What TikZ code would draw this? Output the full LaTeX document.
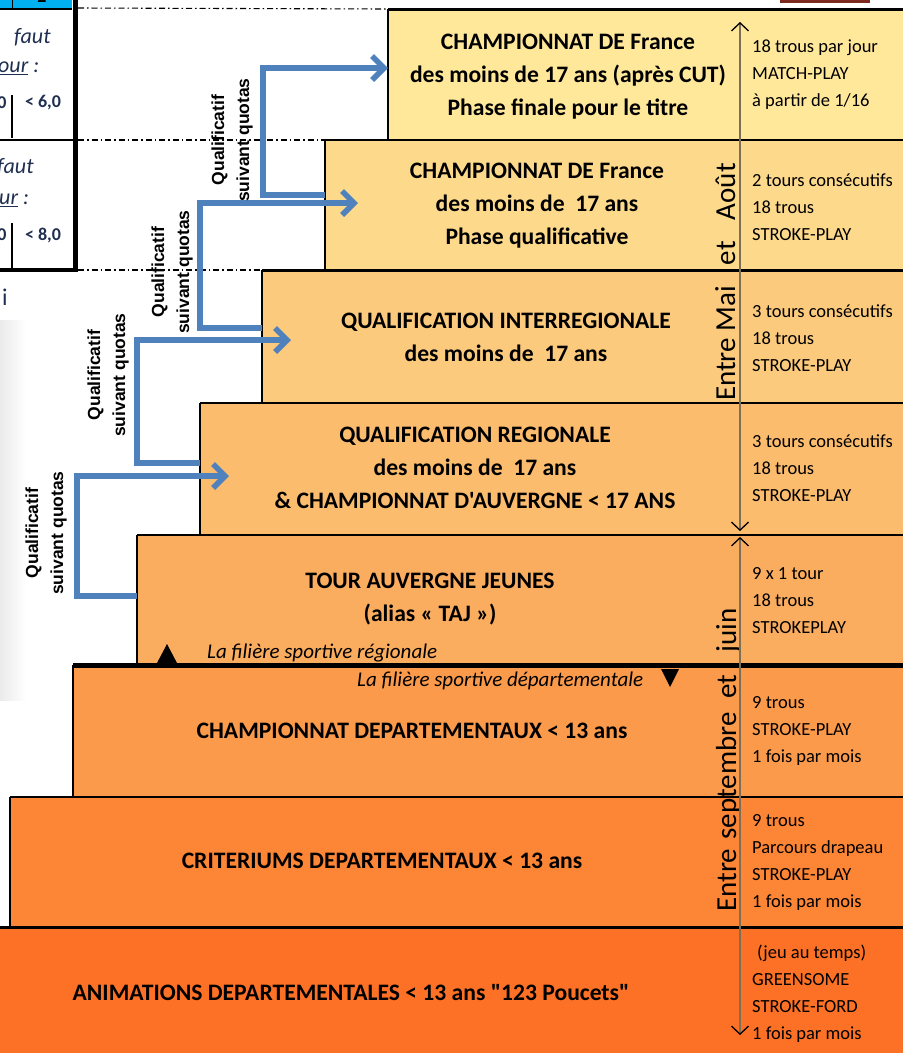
\documentclass[tikz,border=0pt]{standalone}
\usepackage{fontspec}
\setmainfont{Carlito}[Ligatures=TeXOff]
\newfontfamily\arialf{Liberation Sans}
\usetikzlibrary{arrows.meta,calc}
\definecolor{cA}{HTML}{FFE89A}
\definecolor{cB}{HTML}{FDD98B}
\definecolor{cC}{HTML}{FCCA7C}
\definecolor{cD}{HTML}{FBBC6D}
\definecolor{cE}{HTML}{FBAD5F}
\definecolor{cF}{HTML}{FC9A4B}
\definecolor{cG}{HTML}{FC8536}
\definecolor{cH}{HTML}{FD7126}
\definecolor{qblue}{HTML}{4F81BD}
\definecolor{tblue}{HTML}{00B0F0}
\definecolor{navy}{HTML}{1F2F50}
\definecolor{dred}{HTML}{7F2A1E}
\definecolor{axis}{HTML}{7D6E58}
\tikzset{
 stepbox/.style={inner sep=0pt, outer sep=0pt, anchor=north west, draw=none},
 maintxt/.style={align=center, font=\bfseries\fontsize{23.6}{33}\selectfont, inner sep=0pt},
 note/.style={align=left, anchor=west, font=\fontsize{18.5}{27}\selectfont, inner sep=0pt},
 qlabel/.style={rotate=90, align=center, font=\arialf\bfseries\fontsize{17.5}{25}\selectfont, inner sep=0pt},
 qarrow/.style={draw=qblue, line width=5.5pt, -{Straight Barb[length=12pt,width=24pt]}},
 timearrow/.style={draw=axis, line width=1.6pt, {Straight Barb[color=black,length=8pt,width=17pt,line width=1.3pt]}-{Straight Barb[color=black,length=8pt,width=17pt,line width=1.3pt]}},
 dashdot/.style={line width=1.1pt, dash pattern=on 6pt off 3pt on 1.5pt off 3pt},
 period/.style={rotate=90, anchor=base, font=\fontsize{29}{30}\selectfont, inner sep=0pt},
 filiere/.style={anchor=west, font=\itshape\fontsize{21}{24}\selectfont, inner sep=0pt},
 tabtxt/.style={font=\bfseries\fontsize{18}{20}\selectfont, inner sep=0pt},
 tabital/.style={anchor=west, text=navy, font=\itshape\fontsize{22}{24}\selectfont, inner sep=0pt}
}
\begin{document}
\begin{tikzpicture}[x=1pt,y=-1pt]
\useasboundingbox (0,0) rectangle (903,1053);
% steps
\node[stepbox, fill=cA, minimum width=515pt, minimum height=131pt] (b1) at (388,9) {};
\node[stepbox, fill=cB, minimum width=578pt, minimum height=130pt] (b2) at (325,140) {};
\node[stepbox, fill=cC, minimum width=641pt, minimum height=133pt] (b3) at (262,270) {};
\node[stepbox, fill=cD, minimum width=703pt, minimum height=132pt] (b4) at (200,403) {};
\node[stepbox, fill=cE, minimum width=766pt, minimum height=130pt] (b5) at (137,535) {};
\node[stepbox, fill=cF, minimum width=830pt, minimum height=132pt] (b6) at (73,665) {};
\node[stepbox, fill=cG, minimum width=893pt, minimum height=130pt] (b7) at (10,797) {};
\node[stepbox, fill=cH, minimum width=903pt, minimum height=126pt] (b8) at (0,927) {};
% faint shadow at left
\fill[left color=black!8, right color=white] (0,320) rectangle (26,700);
% top right dark red piece
\fill[dred] (780,0) rectangle (870,3);
% partial table at top left
\fill[tblue] (0,0) rectangle (72,8);
\draw[line width=1pt] (12,0) -- (12,8);
\begin{scope}
\clip (0,0) rectangle (72,8);
\node[font=\bfseries\fontsize{18}{20}\selectfont, inner sep=0pt] (tt) at (42,-3) {2};
\end{scope}
\draw[line width=1.2pt] (0,9) -- (72,9);
\draw[line width=5pt] (75,0) -- (75,272);
\draw[line width=1.5pt] (0,140) -- (73,140);
\draw[line width=4pt] (0,270) -- (77,270);
\draw[line width=1.5pt] (12,95) -- (12,138);
\draw[line width=1.5pt] (12,223) -- (12,268);
\node[tabital] (f1) at (14,37) {faut};
\node[tabital] (o1) at (-2,68) {\underline{our} :};
\node[tabital] (f2) at (-3,167) {faut};
\node[tabital] (o2) at (-1,200) {\underline{ur} :};
\node[tabtxt, text=navy] (z1) at (2,103) {0};
\node[tabtxt, text=navy] (v1) at (43,103) {< 6,0};
\node[tabtxt, text=navy] (z2) at (2,235) {0};
\node[tabtxt, text=navy] (v2) at (43,235) {< 8,0};
\node[text=navy, font=\fontsize{24}{26}\selectfont, inner sep=0pt] (ii) at (5,297) {i};
% dash-dot guides
\coordinate (g0) at (78,8);
\coordinate (g1) at (78,140);
\coordinate (g2) at (78,270);
\draw[dashdot] (g0) -- (b1.north west);
\draw[dashdot] (g1) -- (b2.north west);
\draw[dashdot] (g2) -- (b3.north west);
% borders
\draw[line width=3pt] (b1.north west) -- (b1.north east);
\draw[line width=2pt] (b1.north west) -- (b1.south west);
\draw[line width=1.5pt] (b2.north west) -- (b2.north east);
\draw[line width=1.5pt] (b2.north west) -- (b2.south west);
\draw[line width=3pt] (b3.north west) -- (b3.north east);
\draw[line width=1.5pt] (b3.north west) -- (b3.south west);
\draw[line width=1.5pt] (b4.north west) -- (b4.north east);
\draw[line width=1.5pt] (b4.north west) -- (b4.south west);
\draw[line width=1.5pt] (b5.north west) -- (b5.north east);
\draw[line width=1.5pt] (b5.north west) -- (b5.south west);
\draw[line width=1.5pt] (b6.north west) -- (b6.south west);
\draw[line width=1.5pt] (b7.north west) -- (b7.north east);
\draw[line width=1.5pt] (b7.north west) -- (b7.south west);
\draw[line width=3pt] (b8.north west) -- (b8.north east);
\draw[line width=5pt] (b6.north west) -- (b6.north east);
% qualification arrows
\coordinate (e1) at (229,476);
\coordinate (e2) at (291,340);
\coordinate (e3) at (358,203);
\coordinate (e4) at (388,68);
\draw[qarrow] ([yshift=4pt]b5.west) -- ++(-60,0) |- (e1);
\draw[qarrow] ([yshift=6pt]b4.west) -- ++(-63,0) |- (e2);
\draw[qarrow] ([yshift=8.5pt]b3.west) -- ++(-62,0) |- (e3);
\draw[qarrow] ([yshift=10pt]b2.west) -- ++(-62,0) |- (e4);
\node[qlabel] (q1) at (46,533) {Qualificatif\\suivant quotas};
\node[qlabel] (q2) at (108,375) {Qualificatif\\suivant quotas};
\node[qlabel] (q3) at (172,272) {Qualificatif\\suivant quotas};
\node[qlabel] (q4) at (232,140) {Qualificatif\\suivant quotas};
% time axes
\coordinate (ta1) at (740,22);
\coordinate (ta2) at (740,531);
\coordinate (tb1) at (740,537);
\coordinate (tb2) at (740,1035);
\node[period] (pA) at (735,282) {Entre Mai\hspace{21pt}et\hspace{21pt}Août};
\node[period] (pB) at (736,760) {Entre\hspace{9pt}septembre\hspace{14pt}et\hspace{22pt}juin};
\draw[timearrow] (ta1) -- (ta2);
\draw[timearrow] (tb1) -- (tb2);
% main texts
\node[maintxt] (m1) at (568,77) {CHAMPIONNAT DE France\\des moins de 17 ans (après CUT)\\Phase finale pour le titre};
\node[maintxt] (m2) at (537,206) {CHAMPIONNAT DE France\\des moins de\ \ 17 ans\\Phase qualificative};
\node[maintxt] (m3) at (506,337) {QUALIFICATION INTERREGIONALE\\des moins de\ \ 17 ans};
\node[maintxt] (m4) at (475,468) {QUALIFICATION REGIONALE\\des moins de\ \ 17 ans\\\& CHAMPIONNAT D'AUVERGNE < 17 ANS};
\node[maintxt] (m5) at (430,599) {TOUR AUVERGNE JEUNES\\(alias « TAJ »)};
\node[maintxt] (m6) at (412,731) {CHAMPIONNAT DEPARTEMENTAUX < 13 ans};
\node[maintxt] (m7) at (382,861) {CRITERIUMS DEPARTEMENTAUX < 13 ans};
\node[maintxt] (m8) at (351,993) {ANIMATIONS DEPARTEMENTALES < 13 ans "123 Poucets"};
% notes
\node[note] (n1) at (752,75) {18 trous par jour\\MATCH-PLAY\\à partir de 1/16};
\node[note] (n2) at (752,207) {2 tours consécutifs\\18 trous\\STROKE-PLAY};
\node[note] (n3) at (752,338) {3 tours consécutifs\\18 trous\\STROKE-PLAY};
\node[note] (n4) at (752,468) {3 tours consécutifs\\18 trous\\STROKE-PLAY};
\node[note] (n5) at (752,601) {9 x 1 tour\\18 trous\\STROKEPLAY};
\node[note] (n6) at (752,731) {9 trous\\STROKE-PLAY\\1 fois par mois};
\node[note] (n7) at (752,862) {9 trous\\Parcours drapeau\\STROKE-PLAY\\1 fois par mois};
\node[note] (n8) at (752,994) {\hspace{5pt}(jeu au temps)\\GREENSOME\\STROKE-FORD\\1 fois par mois};
% filieres
\fill (157,663) -- (177,663) -- (167,644) -- cycle;
\fill (661,669) -- (679,669) -- (670,687) -- cycle;
\node[filiere] (fr) at (207,653) {La filière sportive régionale};
\node[filiere] (fd) at (357,681) {La filière sportive départementale};
\end{tikzpicture}
\end{document}
